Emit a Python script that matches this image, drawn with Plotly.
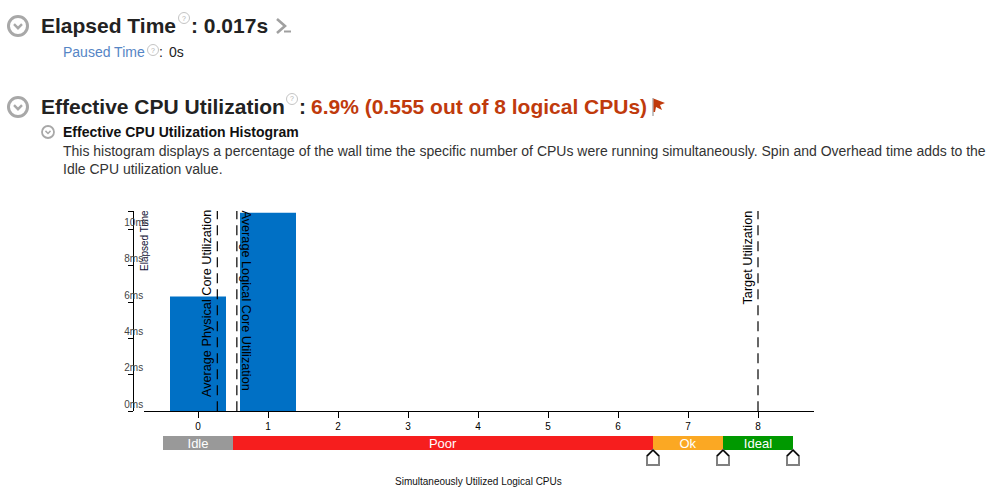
import plotly.graph_objects as go

W, H = 995, 491
FONT = "Liberation Sans"

cpus = [0, 1, 2, 3, 4, 5, 6, 7, 8]
elapsed_ms = [6.3, 10.9, 0, 0, 0, 0, 0, 0, 0]
y_tick_vals = [0, 2, 4, 6, 8, 10, 11]
y_tick_text = ["0ms", "2ms", "4ms", "6ms", "8ms", "10ms", ""]
band_names = ["Idle", "Poor", "Ok", "Ideal"]
band_start = [-0.5, 0.5, 6.5, 7.5]
band_width = [1, 6, 1, 1]
band_colors = ["#999999", "#f61e1e", "#fba823", "#009900"]
handle_pos = [6.5, 7.5, 8.5]
marker_names = ["Average Physical Core Utilization", "Average Logical Core Utilization", "Target Utilization"]
marker_vals = [0.276, 0.555, 8]


def px(x):
    return x / W


def py(y):
    return 1 - y / H


fig = go.Figure()
fig.add_trace(go.Bar(x=cpus, y=elapsed_ms, width=0.8, marker=dict(color="#0070c5", line=dict(width=0)),
                     showlegend=False, hoverinfo="skip"))
for v in marker_vals:
    fig.add_trace(go.Scatter(x=[v, v], y=[0, 11], mode="lines", showlegend=False, hoverinfo="skip",
                             line=dict(color="black", width=1.2, dash="10px,6px")))
fig.add_trace(go.Bar(
    y=[0, 0, 0, 0], x=band_width, base=band_start, orientation="h", width=1, yaxis="y2",
    marker=dict(color=band_colors, line=dict(width=0)), text=band_names, textposition="inside",
    insidetextanchor="middle", constraintext="none", textangle=0,
    textfont=dict(color="white", size=13, family=FONT), showlegend=False, hoverinfo="skip"))

shapes = []
annotations = []


def text(x, y, s, size, color="#222222", anchor="left", angle=0, xref="paper", ax=None):
    annotations.append(dict(
        x=px(x) if xref == "paper" else ax, y=py(y), xref=xref, yref="paper", text=s, showarrow=False,
        xanchor=anchor, yanchor="middle", textangle=angle, borderpad=0, borderwidth=0,
        font=dict(family=FONT, size=size, color=color)))


def chevron_circle(cx, cy, r, w):
    shapes.append(dict(type="circle", xref="paper", yref="paper", x0=px(cx - r), x1=px(cx + r),
                       y0=py(cy + r), y1=py(cy - r), line=dict(color="#a8a8a8", width=w)))
    c = r * 0.42
    shapes.append(dict(type="path", xref="paper", yref="paper",
                       path=f"M {px(cx - c)} {py(cy - c * 0.45)} L {px(cx)} {py(cy + c * 0.55)} L {px(cx + c)} {py(cy - c * 0.45)}",
                       line=dict(color="#a8a8a8", width=w * 0.8)))


def help_icon(cx, cy, r=5.5):
    shapes.append(dict(type="circle", xref="paper", yref="paper", x0=px(cx - r), x1=px(cx + r),
                       y0=py(cy + r), y1=py(cy - r), line=dict(color="#c4c4c4", width=1)))
    text(cx, cy, "?", 7, "#b0b0b0", anchor="center")


chevron_circle(18, 26, 9.5, 3)
chevron_circle(18, 107, 9.5, 3)
chevron_circle(48, 132, 6, 1.8)
help_icon(184, 18)
help_icon(153, 50)
help_icon(292, 99)

# console prompt icon
shapes.append(dict(type="path", xref="paper", yref="paper",
                   path=f"M {px(277)} {py(19)} L {px(285)} {py(26)} L {px(277)} {py(33)}",
                   line=dict(color="#a0a0a0", width=2.6)))
shapes.append(dict(type="line", xref="paper", yref="paper", x0=px(284), x1=px(291), y0=py(31.5), y1=py(31.5),
                   line=dict(color="#a0a0a0", width=2)))
# flag icon
shapes.append(dict(type="line", xref="paper", yref="paper", x0=px(653), x1=px(653), y0=py(98), y1=py(116),
                   line=dict(color="#888888", width=1)))
shapes.append(dict(type="path", xref="paper", yref="paper", fillcolor="#c03a0c", line=dict(width=0),
                   path=f"M {px(653.5)} {py(98.5)} L {px(665)} {py(103)} L {px(660)} {py(105)} L {px(662)} {py(110)} L {px(656)} {py(107)} L {px(655)} {py(112)} L {px(653.5)} {py(112)} Z"))

for h in handle_pos:
    for path, col, lw in [("M -6 -15 L -6 -6 L 0 0 L 6 -6 L 6 -15 Z", "#808080", 2), ("M -6 -6 L 0 0 L 6 -6", "black", 1.2)]:
        shapes.append(dict(type="path", xref="x", yref="paper", xsizemode="pixel", ysizemode="pixel",
                           xanchor=h, yanchor=py(450), path=path, fillcolor="rgba(0,0,0,0)" if col == "black" else "white",
                           line=dict(color=col, width=lw)))

text(41, 25.5, "<b>Elapsed Time</b>", 21)
text(191, 25.5, "<b>: 0.017s</b>", 21)
text(63, 52, "Paused Time", 14, "#5585c5")
text(159, 52, ": ", 14)
text(169, 52, "0s", 14)
text(41, 106, "<b>Effective CPU Utilization</b>", 21)
text(299, 106, "<b>:</b>", 21)
text(311, 106, "<b>6.9% (0.555 out of 8 logical CPUs)</b>", 21, "#c03a0c")
text(63, 132, "<b>Effective CPU Utilization Histogram</b>", 14, "#111111")
text(63, 151, "This histogram displays a percentage of the wall time the specific number of CPUs were running simultaneously. Spin and Overhead time adds to the", 14, "#333333")
text(63, 169, "Idle CPU utilization value.", 14, "#333333")

text(207, 304, marker_names[0], 12.7, "black", "center", -90, "x", 0.13)
text(246, 300.5, marker_names[1], 12.7, "black", "center", 90, "x", 0.686)
text(747, 257.5, marker_names[2], 12.7, "black", "center", -90, "x", 7.843)
text(144, 241, "Elapsed Time", 10, "#111133", "center", -90)
text(478, 481, "Simultaneously Utilized Logical CPUs", 10, "#111111", "center")

fig.update_layout(
    width=W, height=H, margin=dict(l=0, r=0, t=0, b=0), paper_bgcolor="white", plot_bgcolor="white",
    font=dict(family=FONT, color="black"), barmode="overlay", shapes=shapes, annotations=annotations,
    xaxis=dict(domain=[px(144), px(813.5)], range=[(144 - 198) / 70, (813.5 - 198) / 70], anchor="y",
               tickvals=cpus, ticks="outside", ticklen=6, tickwidth=1, tickcolor="black", showline=True,
               linecolor="black", linewidth=1, showgrid=False, zeroline=False, tickfont=dict(size=10, family=FONT)),
    yaxis=dict(domain=[py(411.3), py(211)], range=[0, 11], anchor="free", position=px(133.3), side="left",
               tickvals=y_tick_vals, ticktext=y_tick_text, ticks="outside", ticklen=5, tickwidth=1, tickcolor="black",
               ticklabelposition="inside", ticklabelshift=-7, ticklabelstandoff=-11, showline=True, linecolor="black",
               linewidth=1, showgrid=False, zeroline=False, tickfont=dict(size=10, family=FONT)),
    yaxis2=dict(domain=[py(450), py(436)], range=[-0.5, 0.5], anchor="x", visible=False, overlaying=None),
)

fig.write_html("out.html", config=dict(displayModeBar=False),
               post_script="document.body.style.margin='0';document.body.style.overflow='hidden';")
